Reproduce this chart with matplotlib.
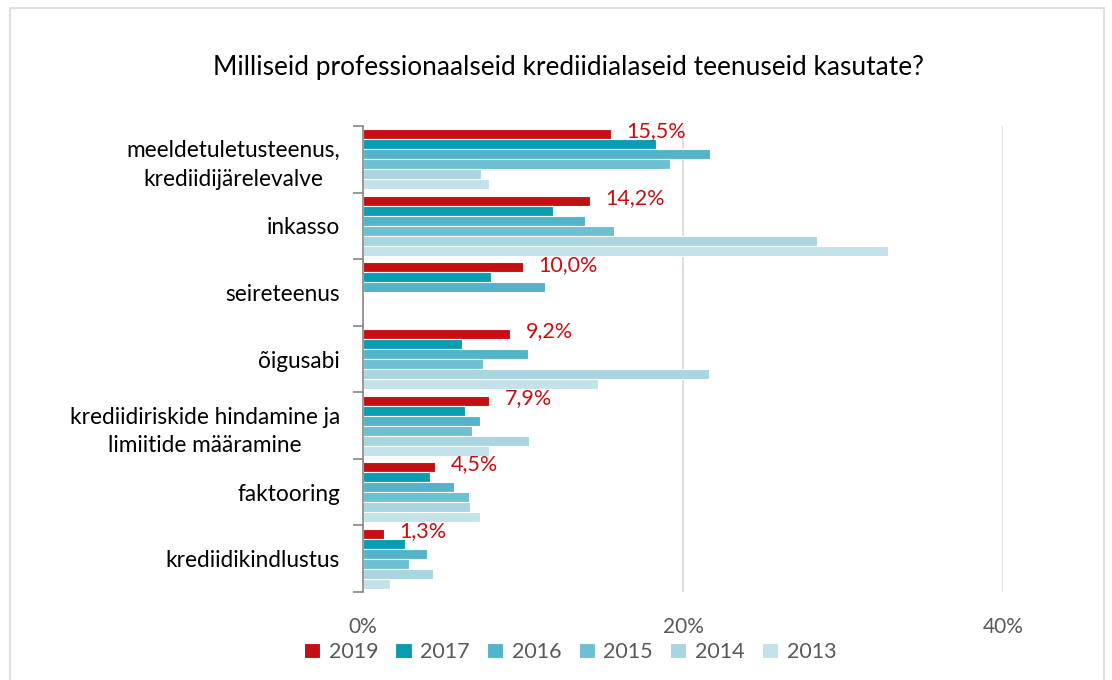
import numpy as np
import matplotlib
matplotlib.use("Agg")
import matplotlib.pyplot as plt
from matplotlib.patches import Rectangle

plt.rcParams['font.family'] = ['Lato', 'DejaVu Sans']

categories = ["meeldetuletusteenus,\nkrediidijärelevalve", "inkasso", "seireteenus", "õigusabi",
              "krediidiriskide hindamine ja\nlimiitide määramine", "faktooring", "krediidikindlustus"]
years = ["2019", "2017", "2016", "2015", "2014", "2013"]
v2019 = [15.5, 14.2, 10.0, 9.2, 7.9, 4.5, 1.3]
v2017 = [18.3, 11.9, 8.0, 6.2, 6.4, 4.2, 2.6]
v2016 = [21.7, 13.9, 11.4, 10.3, 7.3, 5.7, 4.0]
v2015 = [19.2, 15.7, 0, 7.5, 6.8, 6.6, 2.85]
v2014 = [7.4, 28.4, 0, 21.6, 10.4, 6.7, 4.4]
v2013 = [7.9, 32.8, 0, 14.7, 7.9, 7.3, 1.7]
series = [v2019, v2017, v2016, v2015, v2014, v2013]
colors = ["#C40F13", "#0B9CB2", "#52B4C9", "#6DBFD2", "#A8D5DF", "#C4E2EA"]

fig = plt.figure(figsize=(11.12, 6.8), dpi=100)
ax = fig.add_axes([363/1112, 1-592/680, 640/1112, 466/680])

n = len(categories)
slot = 0.9 / 6
y = np.arange(n)
for i, (vals, col, yr) in enumerate(zip(series, colors, years)):
    pos = y - 0.45 + slot * (i + 0.5)
    ax.barh(pos, vals, height=slot, color=col, edgecolor="white", linewidth=0.8, label=yr)

# 2019 andmesildid
pos19 = y - 0.45 + slot * 0.5
for p, v in zip(pos19, v2019):
    ax.annotate(f"{v:.1f}%".replace(".", ","), (v, p), xytext=(11, 2), textcoords="offset points",
                ha="left", va="center", color="#C40F13", fontsize=15.5)

ax.set_ylim(n - 0.5, -0.5)
ax.set_xlim(0, 40)
ax.set_xticks([0, 20, 40])
ax.set_xticklabels(["0%", "20%", "40%"])
ax.xaxis.grid(True, color="#D9D9D9", linewidth=1.2)
ax.set_axisbelow(True)
ax.tick_params(axis="x", length=0, pad=18, labelsize=15, labelcolor="#595959")

ax.set_yticks(y)
ax.set_yticklabels(categories, fontsize=16.3, color="#000000", ha="right", multialignment="center",
                   linespacing=1.45)
ax.tick_params(axis="y", which="major", length=0, pad=16.5)
ax.set_yticks(np.arange(n + 1) - 0.5, minor=True)
ax.tick_params(axis="y", which="minor", length=7, color="#868686", width=1.2)

for s in ["top", "right", "bottom"]:
    ax.spines[s].set_visible(False)
ax.spines["left"].set_color("#868686")
ax.spines["left"].set_linewidth(1.2)

fig.text(568/1112, 1-68/680, "Milliseid professionaalseid krediidialaseid teenuseid kasutate?",
         ha="center", va="center", fontsize=18.9, color="#000000")

handles, labels = ax.get_legend_handles_labels()
fig.legend(handles, labels, loc="center", bbox_to_anchor=(570/1112, 1-652/680), ncol=6, frameon=False,
           fontsize=15.5, labelcolor="#595959", handlelength=0.75, handleheight=0.75, handletextpad=0.4,
           columnspacing=0.8)

fig.patches.append(Rectangle((10/1112, -0.05), 1094/1112, 1.05 - 8/680, transform=fig.transFigure,
                             fill=False, edgecolor="#D9D9D9", linewidth=1.2))

fig.savefig("out.png", dpi=100)
